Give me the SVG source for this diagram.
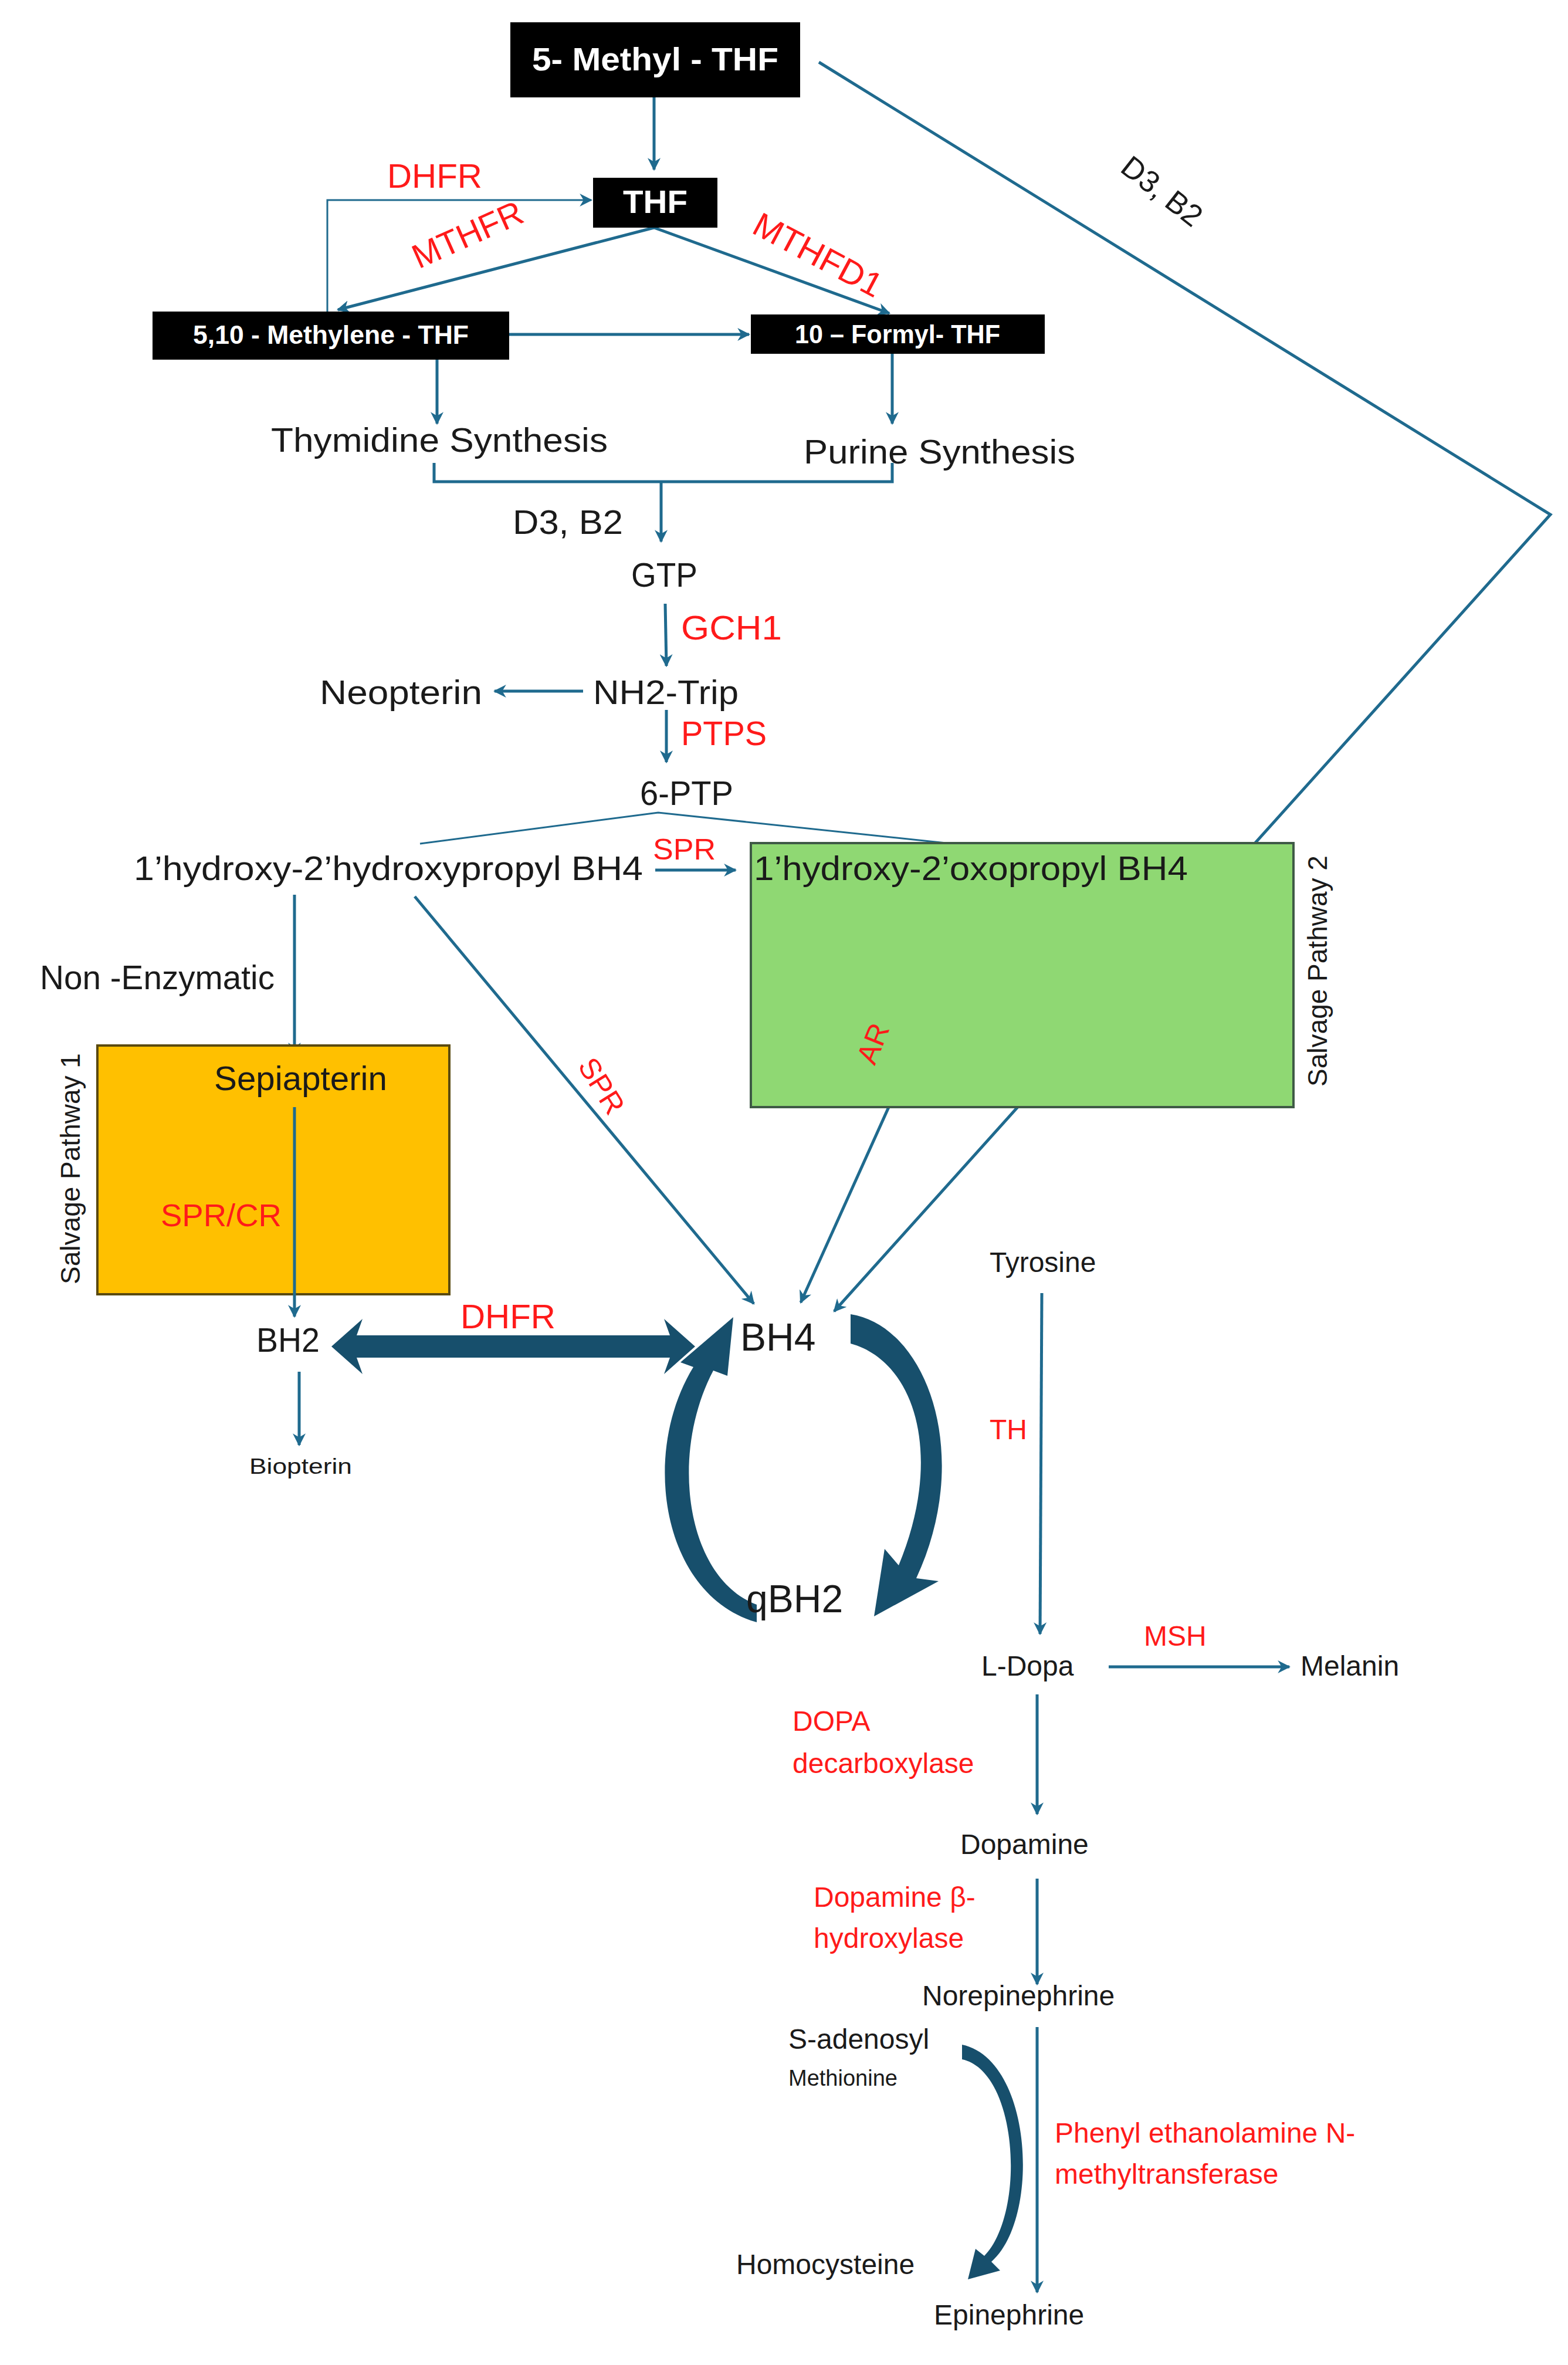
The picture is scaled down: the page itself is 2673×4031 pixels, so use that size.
<svg xmlns="http://www.w3.org/2000/svg" width="2673" height="4031" viewBox="0 0 2673 4031">
<style>
.t{font-family:"Liberation Sans",Arial,sans-serif;fill:#1a1a1a}
.c{font-family:"Liberation Sans",Arial,sans-serif;fill:#1a1a1a;font-size:58px}
.r{font-family:"Liberation Sans",Arial,sans-serif;fill:#ff1a1a}
.w{font-family:"Liberation Sans",Arial,sans-serif;fill:#fff;font-weight:bold}
.ln{stroke:#1f6a8e;stroke-width:5;fill:none}
.lt{stroke:#1f6a8e;stroke-width:3;fill:none}
.blk{fill:#174f6c}
</style>
<defs>
<marker id="a" viewBox="0 0 10 10" refX="9" refY="5" markerWidth="22" markerHeight="22" markerUnits="userSpaceOnUse" orient="auto"><path d="M0,0 L10,5 L0,10 L3,5 Z" fill="#1f6a8e"/></marker>
</defs>
<rect width="2673" height="4031" fill="#fff"/>

<g id="connectors">
<line class="ln" x1="1115" y1="166" x2="1115" y2="289" marker-end="url(#a)"/>
<polyline class="lt" points="558,531 558,341 1008,341" marker-end="url(#a)"/>
<line class="ln" x1="1115" y1="388" x2="576" y2="528" stroke-width="8" marker-end="url(#a)"/>
<line class="ln" x1="1115" y1="388" x2="1516" y2="534" stroke-width="8" marker-end="url(#a)"/>
<line class="ln" x1="868" y1="570" x2="1277" y2="570" stroke-width="7" marker-end="url(#a)"/>
<line class="ln" x1="745" y1="613" x2="745" y2="722" marker-end="url(#a)"/>
<line class="ln" x1="1521" y1="603" x2="1521" y2="722" marker-end="url(#a)"/>
<polyline class="ln" points="740,789 740,821 1521,821 1521,789"/>
<line class="ln" x1="1127" y1="821" x2="1127" y2="923" marker-end="url(#a)"/>
<line class="ln" x1="1134" y1="1029" x2="1136" y2="1135" marker-end="url(#a)"/>
<line class="ln" x1="994" y1="1178" x2="843" y2="1178" stroke-width="8" marker-end="url(#a)"/>
<line class="ln" x1="1136" y1="1210" x2="1136" y2="1299" marker-end="url(#a)"/>
<polyline class="lt" points="716,1438 1122,1385 1670,1443"/>
<line class="ln" x1="1117" y1="1483" x2="1254" y2="1483" stroke-width="7" marker-end="url(#a)"/>
<line class="ln" x1="502" y1="1525" x2="502" y2="1797" marker-end="url(#a)"/>
<line class="ln" x1="707" y1="1528" x2="1285" y2="2222" marker-end="url(#a)"/>
<line class="ln" x1="1674" y1="1534" x2="1365" y2="2220" marker-end="url(#a)"/>
<polyline class="ln" points="1396,106 2643,877 1422,2235" marker-end="url(#a)"/>
<line class="ln" x1="510" y1="2338" x2="510" y2="2463" marker-end="url(#a)"/>
<line class="ln" x1="1776" y1="2204" x2="1773" y2="2785" marker-end="url(#a)"/>
<line class="ln" x1="1890" y1="2841" x2="2198" y2="2841" stroke-width="6" marker-end="url(#a)"/>
<line class="ln" x1="1768" y1="2888" x2="1768" y2="3092" marker-end="url(#a)"/>
<line class="ln" x1="1768" y1="3202" x2="1768" y2="3382" marker-end="url(#a)"/>
<line class="ln" x1="1768" y1="3455" x2="1768" y2="3907" marker-end="url(#a)"/>
<path class="blk" d="M565,2295 L618,2248 L608,2276 L1142,2276 L1132,2248 L1185,2295 L1132,2342 L1142,2314 L608,2314 L618,2342 Z"/>
<path class="blk" d="M1450,2240 C1580,2260 1660,2480 1562,2690 L1600,2695 L1490,2755 L1508,2640 L1532,2668 C1610,2480 1560,2320 1450,2290 Z"/>
<path class="blk" d="M1290,2765 C1130,2720 1090,2480 1182,2330 L1160,2322 L1250,2245 L1240,2345 L1216,2336 C1140,2480 1170,2690 1290,2735 Z"/>
<path class="blk" d="M1640,3485 C1760,3510 1775,3780 1690,3855 L1705,3870 L1650,3885 L1663,3833 L1678,3845 C1750,3770 1735,3530 1640,3510 Z"/>
</g>

<g id="salvage2"><rect x="1280" y="1437" width="925" height="450" fill="#8fd873" stroke="#3f5a46" stroke-width="4"/>
<text class="t" font-size="46" transform="translate(2262,1655) rotate(-90)" text-anchor="middle">Salvage Pathway 2</text></g>
<g id="salvage1"><rect x="166" y="1782" width="600" height="424" fill="#ffc000" stroke="#5a4a10" stroke-width="4"/>
<text class="t" font-size="46" transform="translate(136,1992) rotate(-90)" text-anchor="middle">Salvage Pathway 1</text></g>
<line class="ln" x1="502" y1="1887" x2="502" y2="2244" marker-end="url(#a)"/>
<line class="lt" x1="1122" y1="1385" x2="1122" y2="1385"/>

<g id="n5mthf"><rect x="870" y="38" width="494" height="128" fill="#000"/><text class="w" x="1117" y="120" font-size="56" text-anchor="middle" textLength="420" lengthAdjust="spacingAndGlyphs">5- Methyl - THF</text></g>
<g id="nthf"><rect x="1011" y="303" width="212" height="85" fill="#000"/><text class="w" x="1117" y="363" font-size="56" text-anchor="middle" textLength="110" lengthAdjust="spacingAndGlyphs">THF</text></g>
<g id="nmethylene"><rect x="260" y="531" width="608" height="82" fill="#000"/><text class="w" x="564" y="586" font-size="44" text-anchor="middle" textLength="470" lengthAdjust="spacingAndGlyphs">5,10 - Methylene - THF</text></g>
<g id="nformyl"><rect x="1280" y="536" width="501" height="67" fill="#000"/><text class="w" x="1530" y="585" font-size="44" text-anchor="middle" textLength="350" lengthAdjust="spacingAndGlyphs">10 – Formyl- THF</text></g>

<g id="labels">
<text class="r" x="660" y="320" font-size="58" textLength="162" lengthAdjust="spacingAndGlyphs">DHFR</text>
<text class="r" x="805" y="418" font-size="58" text-anchor="middle" transform="rotate(-24 805 418)" textLength="200" lengthAdjust="spacingAndGlyphs">MTHFR</text>
<text class="r" x="1385" y="452" font-size="58" text-anchor="middle" transform="rotate(28 1385 452)" textLength="240" lengthAdjust="spacingAndGlyphs">MTHFD1</text>
<text class="r" x="1970" y="340" font-size="52" text-anchor="middle" fill="#1a1a1a" style="fill:#1a1a1a" transform="rotate(38 1970 340)">D3, B2</text>
</g>

<g id="nthymidine"><text class="c" x="462" y="770" textLength="574" lengthAdjust="spacingAndGlyphs">Thymidine Synthesis</text></g>
<g id="npurine"><text class="c" x="1370" y="790" textLength="463" lengthAdjust="spacingAndGlyphs">Purine Synthesis</text></g>
<text class="c" x="874" y="910" textLength="188" lengthAdjust="spacingAndGlyphs">D3, B2</text>
<g id="ngtp"><text class="c" x="1076" y="1000" textLength="113" lengthAdjust="spacingAndGlyphs">GTP</text></g>
<text class="r" x="1161" y="1090" font-size="58" textLength="172" lengthAdjust="spacingAndGlyphs">GCH1</text>
<g id="nnh2"><text class="c" x="1011" y="1200" textLength="248" lengthAdjust="spacingAndGlyphs">NH2-Trip</text></g>
<g id="nneopterin"><text class="c" x="545" y="1200" textLength="277" lengthAdjust="spacingAndGlyphs">Neopterin</text></g>
<text class="r" x="1161" y="1270" font-size="58" textLength="146" lengthAdjust="spacingAndGlyphs">PTPS</text>
<g id="n6ptp"><text class="c" x="1091" y="1372" textLength="159" lengthAdjust="spacingAndGlyphs">6-PTP</text></g>
<g id="nhydroxypropyl"><text class="c" x="228" y="1500" textLength="868" lengthAdjust="spacingAndGlyphs">1’hydroxy-2’hydroxypropyl BH4</text></g>
<text class="r" x="1113" y="1465" font-size="50" textLength="107" lengthAdjust="spacingAndGlyphs">SPR</text>
<g id="noxopropyl"><text class="c" x="1285" y="1500" textLength="740" lengthAdjust="spacingAndGlyphs">1’hydroxy-2’oxopropyl BH4</text></g>
<text class="c" x="68" y="1686" textLength="400" lengthAdjust="spacingAndGlyphs">Non -Enzymatic</text>
<g id="nsepiapterin"><text class="c" x="365" y="1858" font-size="52" textLength="295" lengthAdjust="spacingAndGlyphs">Sepiapterin</text></g>
<text class="r" x="274" y="2090" font-size="54" textLength="206" lengthAdjust="spacingAndGlyphs">SPR/CR</text>
<text class="r" x="1011" y="1860" font-size="50" text-anchor="middle" transform="rotate(58 1011 1860)">SPR</text>
<text class="r" x="1504" y="1785" font-size="50" text-anchor="middle" transform="rotate(-68 1504 1785)">AR</text>
<g id="nbh2"><text class="c" x="437" y="2304" font-size="54" textLength="108" lengthAdjust="spacingAndGlyphs">BH2</text></g>
<text class="r" x="785" y="2264" font-size="58" textLength="162" lengthAdjust="spacingAndGlyphs">DHFR</text>
<g id="nbiopterin"><text class="t" x="425" y="2512" font-size="36" textLength="175" lengthAdjust="spacingAndGlyphs">Biopterin</text></g>
<g id="nbh4"><text class="t" x="1262" y="2302" font-size="66">BH4</text></g>
<g id="nqbh2"><text class="t" x="1272" y="2748" font-size="66">qBH2</text></g>
<g id="ntyrosine"><text class="t" x="1687" y="2168" font-size="48">Tyrosine</text></g>
<text class="r" x="1687" y="2453" font-size="48">TH</text>
<g id="nldopa"><text class="t" x="1673" y="2856" font-size="48">L-Dopa</text></g>
<text class="r" x="1950" y="2805" font-size="48">MSH</text>
<g id="nmelanin"><text class="t" x="2217" y="2856" font-size="48">Melanin</text></g>
<text class="r" x="1351" y="2950" font-size="48">DOPA</text>
<text class="r" x="1351" y="3022" font-size="48">decarboxylase</text>
<g id="ndopamine"><text class="t" x="1637" y="3160" font-size="48">Dopamine</text></g>
<text class="r" x="1387" y="3250" font-size="48">Dopamine β-</text>
<text class="r" x="1387" y="3320" font-size="48">hydroxylase</text>
<g id="nnorepinephrine"><text class="t" x="1572" y="3418" font-size="48">Norepinephrine</text></g>
<g id="nsam"><text class="t" x="1344" y="3492" font-size="48">S-adenosyl</text><text class="t" x="1344" y="3555" font-size="38">Methionine</text></g>
<text class="r" x="1798" y="3652" font-size="48">Phenyl ethanolamine N-</text>
<text class="r" x="1798" y="3722" font-size="48">methyltransferase</text>
<g id="nhomocysteine"><text class="t" x="1255" y="3876" font-size="48">Homocysteine</text></g>
<g id="nepinephrine"><text class="t" x="1592" y="3962" font-size="48">Epinephrine</text></g>
</svg>
